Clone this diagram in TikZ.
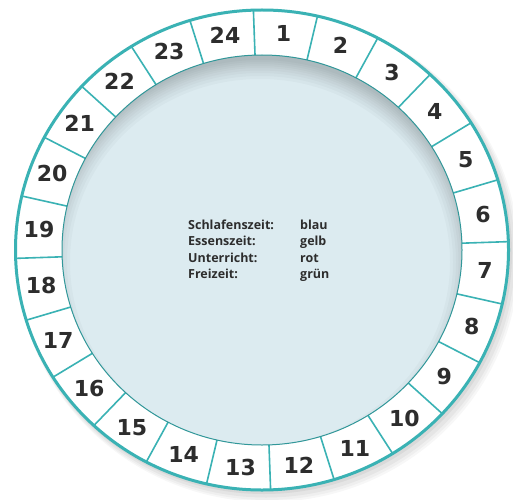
\documentclass[tikz,border=0pt]{standalone}
\usepackage{fontspec}
\setmainfont{Open Sans}
\newfontfamily\numfont{DejaVu Sans}
\definecolor{ringteal}{RGB}{58,178,180}
\definecolor{discblue}{RGB}{220,235,240}
\definecolor{inkgray}{RGB}{45,45,45}

\begin{document}
\begin{tikzpicture}[x=1pt, y=1pt,
  divider/.style={ringteal, line width=1.6pt},
  num/.style={font=\numfont\bfseries\fontsize{22}{22}\selectfont, text=inkgray, inner sep=0pt},
  legend/.style={anchor=base west, font=\bfseries\fontsize{12.5}{15}\selectfont, text=inkgray, inner sep=0pt},
  innershade/.style={black, opacity=0.022}]
\useasboundingbox (0,0) rectangle (513,499);
\fill[white] (0,0) rectangle (513,499);
% --- drop shadow under the dial ---
\fill[black, opacity=0.03] (268,242) ellipse (251 and 245);
\fill[black, opacity=0.03] (267,243) ellipse (250 and 244);
\fill[black, opacity=0.04] (266,244) ellipse (249 and 242.5);
\fill[black, opacity=0.05] (264,246) ellipse (248 and 241);
% --- white ring ---
\fill[white] (262,249) ellipse (246.5 and 240);
% --- inner disc with inner shadow ---
\begin{scope}
\clip (262,249) ellipse (200 and 195);
\fill[discblue] (262,249) ellipse (200 and 195);
\draw[innershade, line width=44pt] (260,237) ellipse (212 and 205);
\draw[innershade, line width=38pt] (260,237) ellipse (212 and 205);
\draw[innershade, line width=32pt] (260,237) ellipse (212 and 205);
\draw[innershade, line width=27pt] (260,237) ellipse (212 and 205);
\draw[innershade, line width=22pt] (260,237) ellipse (212 and 205);
\draw[innershade, line width=18pt] (260,237) ellipse (212 and 205);
\draw[innershade, line width=14pt] (260,237) ellipse (212 and 205);
\draw[innershade, line width=10pt] (260,237) ellipse (212 and 205);
\draw[innershade, line width=6pt] (260,237) ellipse (212 and 205);
\end{scope}
% --- hour dividers ---
\begin{scope}[shift={(262,249)}]
\draw[divider] (92:200 and 195) -- (92:246.5 and 240);
\draw[divider] (77:200 and 195) -- (77:246.5 and 240);
\draw[divider] (62:200 and 195) -- (62:246.5 and 240);
\draw[divider] (47:200 and 195) -- (47:246.5 and 240);
\draw[divider] (32:200 and 195) -- (32:246.5 and 240);
\draw[divider] (17:200 and 195) -- (17:246.5 and 240);
\draw[divider] (2:200 and 195) -- (2:246.5 and 240);
\draw[divider] (-13:200 and 195) -- (-13:246.5 and 240);
\draw[divider] (-28:200 and 195) -- (-28:246.5 and 240);
\draw[divider] (-43:200 and 195) -- (-43:246.5 and 240);
\draw[divider] (-58:200 and 195) -- (-58:246.5 and 240);
\draw[divider] (-73:200 and 195) -- (-73:246.5 and 240);
\draw[divider] (-88:200 and 195) -- (-88:246.5 and 240);
\draw[divider] (-103:200 and 195) -- (-103:246.5 and 240);
\draw[divider] (-118:200 and 195) -- (-118:246.5 and 240);
\draw[divider] (-133:200 and 195) -- (-133:246.5 and 240);
\draw[divider] (-148:200 and 195) -- (-148:246.5 and 240);
\draw[divider] (-163:200 and 195) -- (-163:246.5 and 240);
\draw[divider] (-178:200 and 195) -- (-178:246.5 and 240);
\draw[divider] (167:200 and 195) -- (167:246.5 and 240);
\draw[divider] (152:200 and 195) -- (152:246.5 and 240);
\draw[divider] (137:200 and 195) -- (137:246.5 and 240);
\draw[divider] (122:200 and 195) -- (122:246.5 and 240);
\draw[divider] (107:200 and 195) -- (107:246.5 and 240);
% --- hour numbers ---
\node[num] (h1) at (84.5:224 and 218) {1};
\node[num] (h2) at (69.5:224 and 218) {2};
\node[num] (h3) at (54.5:224 and 218) {3};
\node[num] (h4) at (39.5:224 and 218) {4};
\node[num] (h5) at (24.5:224 and 218) {5};
\node[num] (h6) at (9.5:224 and 218) {6};
\node[num] (h7) at (-5.5:224 and 218) {7};
\node[num] (h8) at (-20.5:224 and 218) {8};
\node[num] (h9) at (-35.5:224 and 218) {9};
\node[num] (h10) at (-50.5:224 and 218) {10};
\node[num] (h11) at (-65.5:224 and 218) {11};
\node[num] (h12) at (-80.5:224 and 218) {12};
\node[num] (h13) at (-95.5:224 and 218) {13};
\node[num] (h14) at (-110.5:224 and 218) {14};
\node[num] (h15) at (-125.5:224 and 218) {15};
\node[num] (h16) at (-140.5:224 and 218) {16};
\node[num] (h17) at (-155.5:224 and 218) {17};
\node[num] (h18) at (-170.5:224 and 218) {18};
\node[num] (h19) at (174.5:224 and 218) {19};
\node[num] (h20) at (159.5:224 and 218) {20};
\node[num] (h21) at (144.5:224 and 218) {21};
\node[num] (h22) at (129.5:224 and 218) {22};
\node[num] (h23) at (114.5:224 and 218) {23};
\node[num] (h24) at (99.5:224 and 218) {24};
\end{scope}
% --- ring borders ---
\draw[ringteal!85!black, line width=1pt] (262,249) ellipse (200 and 195);
\draw[ringteal, line width=3pt] (262,249) ellipse (246.5 and 240);
% --- colour legend ---
\node[legend] (schlaf) at (188,270) {Schlafenszeit:};
\node[legend] (essen) at (188,253.5) {Essenszeit:};
\node[legend] (unterricht) at (188,237) {Unterricht:};
\node[legend] (frei) at (188,220.5) {Freizeit:};
\node[legend] (blau) at (300,270) {blau};
\node[legend] (gelb) at (300,253.5) {gelb};
\node[legend] (rot) at (300,237) {rot};
\node[legend] (gruen) at (300,220.5) {grün};
\end{tikzpicture}
\end{document}
